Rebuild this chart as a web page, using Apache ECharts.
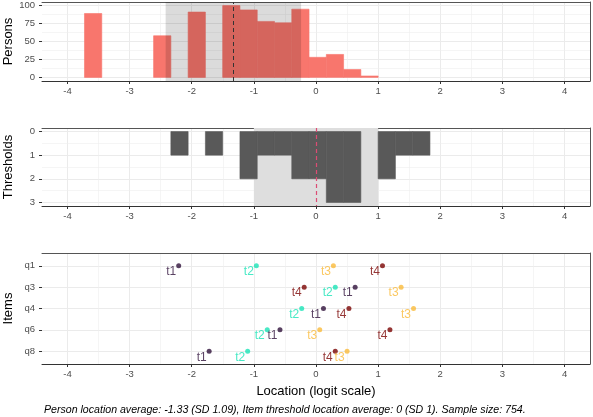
<!DOCTYPE html>
<html>
<head>
<meta charset="utf-8">
<script src="https://cdn.jsdelivr.net/npm/echarts@6/dist/echarts.min.js"></script>
<style>
  html, body { margin: 0; padding: 0; background: #fff; }
  #container { width: 593px; height: 417px; }
</style>
</head>
<body>
<div id="container"></div>
<script>
// histogram bins (same width for persons and thresholds)
var binWidth = 0.278;
var personBinStart = -3.726;
var personCounts = [89, 0, 0, 0, 58, 0, 91, 0, 100, 94, 78, 76, 95, 28, 32, 11, 2];
var thresholdBinStart = -2.336;
var thresholdCounts = [1, 0, 1, 0, 2, 1, 1, 2, 2, 3, 3, 0, 2, 1, 1];

var personMean = -1.33, personSD = 1.09;
var thresholdMean = 0, thresholdSD = 1;

// item threshold locations
var items = ['q1', 'q3', 'q4', 'q6', 'q8'];
var thresholdNames = ['t1', 't2', 't3', 't4'];
var t1 = [-2.21, 0.63, 0.12, -0.58, -1.72];
var t2 = [-0.96, 0.31, -0.23, -0.785, -1.10];
var t3 = [0.28, 1.37, 1.57, 0.06, 0.50];
var t4 = [1.07, -0.19, 0.53, 1.19, 0.31];
var thresholdColors = ['#30123B', '#1AE4B6', '#FABA39', '#7A0403'];

// axis ticks
var xTicks = [-4, -3, -2, -1, 0, 1, 2, 3, 4];
var personTicks = [0, 25, 50, 75, 100];
var thresholdTicks = [0, 1, 2, 3];
var itemTicks = [1, 2, 3, 4, 5];

var caption = 'Person location average: -1.33 (SD 1.09), Item threshold location average: 0 (SD 1). Sample size: 754.';

var FONT = 'Liberation Sans, Arial, sans-serif';

function halfway(ticks) {
  var out = [];
  for (var i = 0; i < ticks.length - 1; i++) out.push((ticks[i] + ticks[i + 1]) / 2);
  return out;
}

function binData(start, counts) {
  var out = [];
  counts.forEach(function (n, i) {
    if (n > 0) out.push([start + i * binWidth, start + (i + 1) * binWidth, n]);
  });
  return out;
}

function histItem(params, api) {
  var a = api.coord([api.value(0), api.value(2)]);
  var b = api.coord([api.value(1), 0]);
  var c = api.visual('color');
  return {
    type: 'rect',
    shape: { x: a[0], y: Math.min(a[1], b[1]), width: b[0] - a[0], height: Math.abs(b[1] - a[1]) },
    style: { fill: c, stroke: c, lineWidth: 0.6 }
  };
}

var grids = [
  { left: 42, right: 3, top: 2, height: 79, outerBoundsMode: 'none' },
  { left: 42, right: 3, top: 128, height: 78, outerBoundsMode: 'none' },
  { left: 42, right: 3, top: 253, height: 111, outerBoundsMode: 'none' }
];

function mainX(i, withName) {
  var ax = {
    type: 'value', gridIndex: i, min: -4.41, max: 4.41,
    axisLine: { onZero: false, lineStyle: { color: '#333', width: 1 } },
    axisTick: { length: 3, customValues: xTicks, lineStyle: { color: '#333' } },
    axisLabel: { customValues: xTicks, color: '#4D4D4D', fontSize: 9.5, margin: 5, fontFamily: FONT },
    splitLine: { show: true, lineStyle: { color: '#EBEBEB', width: 1 } }
  };
  if (withName) {
    ax.name = 'Location (logit scale)';
    ax.nameLocation = 'middle';
    ax.nameGap = 21;
    ax.nameMoveOverlap = false;
    ax.nameTextStyle = { color: '#000', fontSize: 13, fontFamily: FONT };
  }
  return ax;
}
function borderX(i) {
  return {
    type: 'value', gridIndex: i, position: 'top', min: 0, max: 1,
    axisLine: { onZero: false, lineStyle: { color: '#555', width: 1 } },
    axisTick: { show: false }, axisLabel: { show: false }, splitLine: { show: false }
  };
}
function borderY(i) {
  return {
    type: 'value', gridIndex: i, position: 'right', min: 0, max: 1,
    axisLine: { show: true, onZero: false, lineStyle: { color: '#555', width: 1 } },
    axisTick: { show: false }, axisLabel: { show: false }, splitLine: { show: false }
  };
}
function mainY(i, name, min, max, ticks, inverse, fmt) {
  return {
    type: 'value', gridIndex: i, min: min, max: max, inverse: inverse,
    name: name, nameLocation: 'middle', nameGap: 27, nameMoveOverlap: false,
    nameTextStyle: { color: '#000', fontSize: 13, fontFamily: FONT },
    axisLine: { show: false, onZero: false },
    axisTick: { show: true, length: 3, customValues: ticks, lineStyle: { color: '#333' } },
    axisLabel: { customValues: ticks, color: '#4D4D4D', fontSize: 9.5, margin: 7, fontFamily: FONT, formatter: fmt },
    splitLine: { show: true, lineStyle: { color: '#EBEBEB', width: 1 } }
  };
}

function minorGrid(i, yMinor) {
  var lines = halfway(xTicks).map(function (v) { return { xAxis: v }; });
  yMinor.forEach(function (v) { lines.push({ yAxis: v }); });
  return {
    type: 'line', xAxisIndex: i * 2, yAxisIndex: i * 2, data: [], z: 0, silent: true,
    markLine: {
      z: 0, silent: true, symbol: ['none', 'none'], label: { show: false },
      lineStyle: { color: '#EFEFEF', width: 0.6, type: 'solid' },
      data: lines
    }
  };
}

var series = [
  minorGrid(0, halfway(personTicks)),
  minorGrid(1, halfway(thresholdTicks)),
  minorGrid(2, []),
  // persons histogram
  {
    type: 'custom', xAxisIndex: 0, yAxisIndex: 0, renderItem: histItem,
    encode: { x: [0, 1], y: 2 }, z: 2,
    itemStyle: { color: '#F8766D' },
    data: binData(personBinStart, personCounts)
  },
  {
    type: 'line', xAxisIndex: 0, yAxisIndex: 0, data: [], z: 3, silent: true,
    markArea: {
      z: 3, silent: true,
      itemStyle: { color: 'rgba(0,0,0,0.14)' },
      data: [[{ xAxis: personMean - personSD }, { xAxis: personMean + personSD }]]
    },
    markLine: {
      z: 4, silent: true, symbol: ['none', 'none'], label: { show: false },
      lineStyle: { color: '#333', width: 1, type: [4, 3] },
      data: [{ xAxis: personMean }]
    }
  },
  // thresholds histogram
  {
    type: 'line', xAxisIndex: 2, yAxisIndex: 2, data: [], z: 1, silent: true,
    markArea: {
      z: 1, silent: true,
      itemStyle: { color: '#DEDEDE' },
      data: [[{ xAxis: thresholdMean - thresholdSD }, { xAxis: thresholdMean + thresholdSD }]]
    }
  },
  {
    type: 'custom', xAxisIndex: 2, yAxisIndex: 2, renderItem: histItem,
    encode: { x: [0, 1], y: 2 }, z: 2,
    itemStyle: { color: '#595959' },
    data: binData(thresholdBinStart, thresholdCounts)
  },
  {
    type: 'line', xAxisIndex: 2, yAxisIndex: 2, data: [], z: 4, silent: true,
    markLine: {
      z: 4, silent: true, symbol: ['none', 'none'], label: { show: false },
      lineStyle: { color: '#DC4C74', width: 1.2, type: [4, 3] },
      data: [{ xAxis: thresholdMean }]
    }
  }
];

// item thresholds
[t1, t2, t3, t4].forEach(function (vals, k) {
  series.push({
    type: 'scatter', name: thresholdNames[k], xAxisIndex: 4, yAxisIndex: 4, z: 5,
    symbolSize: 5,
    itemStyle: { color: thresholdColors[k] },
    label: {
      show: true, position: 'left', distance: 0, offset: [0, 6],
      formatter: thresholdNames[k], color: thresholdColors[k],
      fontSize: 12, fontFamily: FONT
    },
    data: vals.map(function (v, i) { return [v, i + 1]; })
  });
});

var option = {
  animation: false,
  backgroundColor: '#fff',
  title: {
    text: caption, left: 39, top: 400,
    textStyle: { fontSize: 10.6, fontStyle: 'italic', fontWeight: 'normal', color: '#000', fontFamily: FONT }
  },
  grid: grids,
  xAxis: [mainX(0), borderX(0), mainX(1), borderX(1), mainX(2, true), borderX(2)],
  yAxis: [
    mainY(0, 'Persons', -5, 105, personTicks, false),
    borderY(0),
    mainY(1, 'Thresholds', -0.15, 3.15, thresholdTicks, true),
    borderY(1),
    mainY(2, 'Items', 0.4, 5.6, itemTicks, true, function (v) { return items[Math.round(v) - 1]; }),
    borderY(2)
  ],
  series: series
};

var myChart = echarts.init(document.getElementById('container'));
myChart.setOption(option);
</script>
</body>
</html>
